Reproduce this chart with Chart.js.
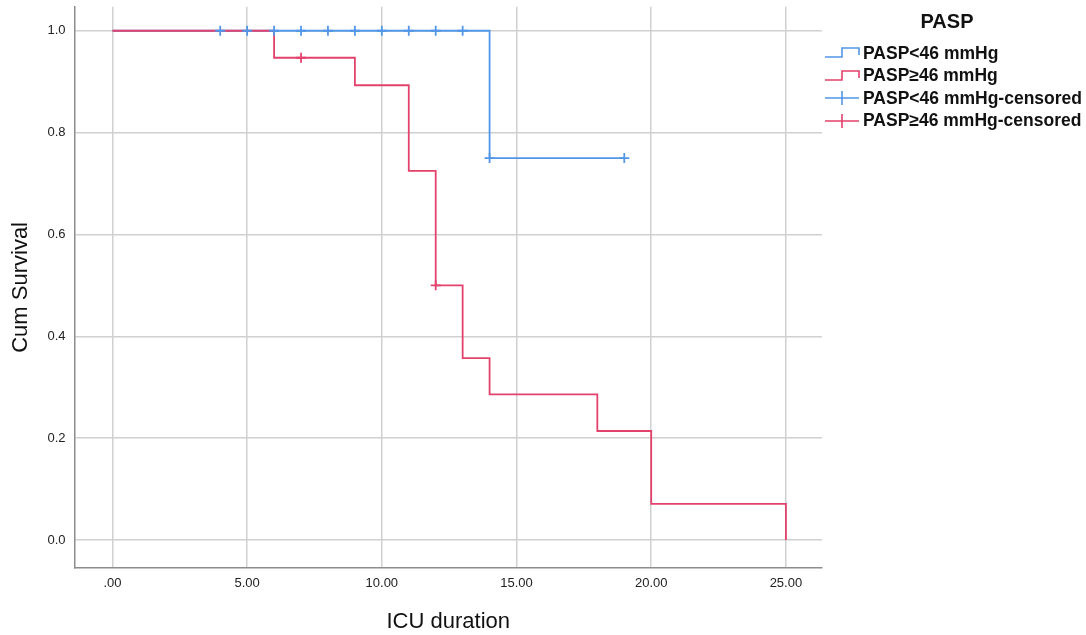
<!DOCTYPE html>
<html>
<head>
<meta charset="utf-8">
<script src="https://cdn.jsdelivr.net/npm/chart.js@4"></script>
<style>
  body { margin: 0; background: #fff; font-family: "Liberation Sans", Arial, sans-serif; }
  #wrap { position: relative; width: 1086px; height: 635px; }
  #legend { position: absolute; left: 824px; top: 8px; width: 262px; }
  #legend .title { font-weight: bold; font-size: 20px; color: #111; text-align: center; margin-left: -16px; height: 28px; line-height: 26px; margin-bottom: 6px; }
  #legend .row { display: flex; align-items: center; height: 22.5px; font-weight: bold; font-size: 17.5px; color: #111; }
  #legend canvas { margin-right: 2px; }
</style>
</head>
<body>
<div id="wrap">
  <canvas id="km" width="1086" height="635"></canvas>
  <div id="legend"></div>
</div>
<script>
// Kaplan-Meier step points (time, survival)
const lowTimes = [0, 14, 19];
const lowSurv = [1.0, 0.75, 0.75];
const highTimes = [0, 6, 9, 11, 12, 13, 14, 18, 20, 25];
const highSurv = [1.0, 0.947, 0.893, 0.725, 0.5, 0.357, 0.286, 0.214, 0.071, 0.0];

// censored observations
const lowCensTimes = [4, 5, 6, 7, 8, 9, 10, 11, 12, 13, 14, 19];
const lowCensSurv = [1, 1, 1, 1, 1, 1, 1, 1, 1, 1, 0.75, 0.75];
const highCensTimes = [7, 12];
const highCensSurv = [0.947, 0.5];

const xTickValues = [0, 5, 10, 15, 20, 25];
const xTickLabels = ['.00', '5.00', '10.00', '15.00', '20.00', '25.00'];
const yTickValues = [0, 0.2, 0.4, 0.6, 0.8, 1.0];
const yTickLabels = ['0.0', '0.2', '0.4', '0.6', '0.8', '1.0'];

const seriesNames = ['PASP<46 mmHg', 'PASP\u226546 mmHg', 'PASP<46 mmHg-censored', 'PASP\u226546 mmHg-censored'];

const BLUE = '#5296e8';
const RED = '#e3426c';
const TICK_FONT = { family: "'Liberation Sans Narrow', 'Liberation Sans', Arial", size: 13 };

const pts = (xs, ys) => xs.map((x, i) => ({ x: x, y: ys[i] }));
const noPad = s => { s.paddingTop = 0; s.paddingBottom = 0; s.paddingLeft = 0; s.paddingRight = 0; };

const ctx = document.getElementById('km').getContext('2d');
new Chart(ctx, {
  type: 'scatter',
  data: {
    datasets: [
      { label: seriesNames[0], data: pts(lowTimes, lowSurv), showLine: true, stepped: true,
        borderColor: BLUE, borderWidth: 1.8, pointRadius: 0, order: 3 },
      { label: seriesNames[1], data: pts(highTimes, highSurv), showLine: true, stepped: true,
        borderColor: RED, borderWidth: 1.8, pointRadius: 0, order: 2 },
      { label: seriesNames[2], data: pts(lowCensTimes, lowCensSurv), pointStyle: 'cross',
        pointRadius: 5, borderColor: BLUE, borderWidth: 1.8, order: 0 },
      { label: seriesNames[3], data: pts(highCensTimes, highCensSurv), pointStyle: 'cross',
        pointRadius: 5, borderColor: RED, borderWidth: 1.8, order: 1 }
    ]
  },
  options: {
    responsive: false,
    animation: false,
    layout: { padding: { left: 8, top: 0, right: 264, bottom: 0 } },
    plugins: { legend: { display: false }, tooltip: { enabled: false } },
    scales: {
      x: {
        type: 'linear', min: -1.41, max: 26.34,
        afterBuildTicks: s => { s.ticks = xTickValues.map(v => ({ value: v })); },
        afterFit: noPad,
        ticks: {
          callback: (v) => xTickLabels[xTickValues.indexOf(v)],
          color: '#222', font: TICK_FONT, padding: 8, maxRotation: 0
        },
        grid: { color: '#d0d0d0', lineWidth: 1.5, drawTicks: false },
        border: { color: '#8c8c8c', width: 1.5 },
        title: { display: true, text: 'ICU duration', color: '#111',
          font: { family: 'Liberation Sans', size: 22 }, padding: { top: 9, bottom: 0 } }
      },
      y: {
        type: 'linear', min: -0.055, max: 1.047,
        afterBuildTicks: s => { s.ticks = yTickValues.map(v => ({ value: v })); },
        afterFit: noPad,
        ticks: {
          callback: (v) => yTickLabels[yTickValues.findIndex(t => Math.abs(t - v) < 1e-6)],
          color: '#222', font: TICK_FONT, padding: 9
        },
        grid: { color: '#d0d0d0', lineWidth: 1.5, drawTicks: false },
        border: { color: '#8c8c8c', width: 1.5 },
        title: { display: true, text: 'Cum Survival', color: '#111',
          font: { family: 'Liberation Sans', size: 22 }, padding: { top: 0, bottom: 4 } }
      }
    }
  }
});

// legend with step and cross icons
const legend = document.getElementById('legend');
const t = document.createElement('div');
t.className = 'title';
t.textContent = 'PASP';
legend.appendChild(t);
const iconColors = [BLUE, RED, BLUE, RED];
seriesNames.forEach((name, i) => {
  const row = document.createElement('div');
  row.className = 'row';
  const c = document.createElement('canvas');
  c.width = 37; c.height = 20;
  const g = c.getContext('2d');
  g.strokeStyle = iconColors[i];
  g.lineWidth = 1.6;
  g.beginPath();
  if (i < 2) {
    g.moveTo(1, 14); g.lineTo(18, 14); g.lineTo(18, 5); g.lineTo(35, 5); g.lineTo(35, 12);
  } else {
    g.moveTo(1, 10); g.lineTo(35, 10); g.moveTo(18, 3); g.lineTo(18, 17);
  }
  g.stroke();
  row.appendChild(c);
  const s = document.createElement('span');
  s.textContent = name;
  row.appendChild(s);
  legend.appendChild(row);
});
</script>
</body>
</html>
